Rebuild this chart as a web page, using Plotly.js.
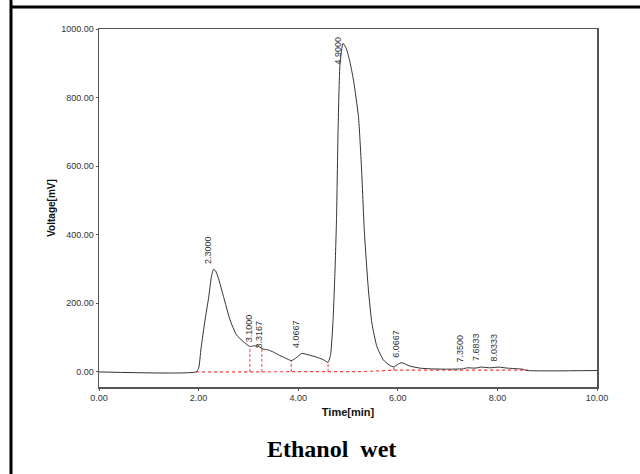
<!DOCTYPE html>
<html>
<head>
<meta charset="utf-8">
<script src="https://cdn.plot.ly/plotly-3.0.1.min.js"></script>
<style>html,body{margin:0;padding:0;background:#fff;}#chart{width:640px;height:474px;}</style>
</head>
<body>
<div id="chart"></div>
<script>
// Chromatogram trace (time in min, voltage in mV)
const timeMin = [0, 1.95, 2.00, 2.05, 2.13, 2.20, 2.26, 2.30, 2.34, 2.40, 2.50, 2.63, 2.76, 2.90, 3.03, 3.10, 3.20, 3.27, 3.32, 3.40, 3.50, 3.63, 3.75, 3.86, 3.95, 4.07, 4.20, 4.35, 4.50, 4.60, 4.65, 4.70, 4.74, 4.77, 4.80, 4.84, 4.90, 4.96, 5.03, 5.11, 5.21, 5.27, 5.33, 5.41, 5.48, 5.58, 5.71, 5.85, 5.92, 6.00, 6.08, 6.24, 6.45, 6.65, 7.00, 7.30, 7.40, 7.55, 7.68, 7.85, 8.03, 8.20, 8.50, 8.60, 10.0];
const voltage = [0, 0, 10, 70, 152, 215, 280, 299, 295, 272, 220, 152, 108, 88, 74, 76, 75, 68, 66, 64, 58, 48, 40, 33, 40, 54, 50, 44, 36, 28, 50, 150, 300, 450, 700, 900, 958, 945, 910, 851, 744, 598, 405, 239, 142, 74, 35, 18, 15, 22, 27, 17, 11, 9, 8, 9, 12, 11, 14, 12, 14, 11, 8, 4, 4];

// Integration baseline (red dotted)
const baseTime = [1.95, 4.60, 5.30, 5.92, 8.62];
const baseVolt = [0, 0, 1, 5, 5];

// Peak drop lines (red dashed)
const dropTime = [3.03, 3.27, 3.86, 4.60, 5.92];
const dropTop = [74, 68, 33, 28, 15];
const dropBottom = [0, 0, 0, 0, 5];

// Peak labels (retention times) and their apex heights
const peakLabels = ["2.3000", "3.1000", "3.3167", "4.0667", "4.9000", "6.0667", "7.3500", "7.6833", "8.0333"];
const peakHeights = [299, 76, 66, 54, 958, 27, 10, 13, 13];

const xTicks = [0, 2, 4, 6, 8, 10];
const yTicks = [0, 200, 400, 600, 800, 1000];

const labelYShift = [3, 2, -1, 3, -23, 3, 4, 4, 4];

const FONT = 'Arial, "Liberation Sans", sans-serif';
const RED = '#ff3b3b';

const traces = [];
traces.push({
  x: baseTime, y: baseVolt, mode: 'lines', type: 'scatter',
  line: {color: RED, width: 1.2, dash: 'dot'}, hoverinfo: 'skip'
});
dropTime.forEach((t, i) => {
  traces.push({
    x: [t, t], y: [dropBottom[i], dropTop[i]], mode: 'lines', type: 'scatter',
    line: {color: RED, width: 1, dash: '3px,2px'}, hoverinfo: 'skip'
  });
});
traces.push({
  x: timeMin, y: voltage, mode: 'lines', type: 'scatter',
  line: {color: '#333333', width: 1, shape: 'spline', smoothing: 0.5}
});

const annotations = peakLabels.map((lab, i) => ({
  x: parseFloat(lab), y: peakHeights[i], xref: 'x', yref: 'y',
  text: lab, showarrow: false, textangle: -90,
  xanchor: 'center', yanchor: 'bottom', xshift: -5, yshift: labelYShift[i],
  font: {family: FONT, size: 9, color: '#333'}
}));
annotations.push({
  x: 0.466, y: -0.172, xref: 'paper', yref: 'paper',
  text: 'Ethanol\u00a0 wet', showarrow: false, xanchor: 'center', yanchor: 'middle',
  font: {family: '"Liberation Serif", "Times New Roman", serif', size: 24, color: '#000', weight: 'bold'}
});

const layout = {
  width: 640, height: 474,
  margin: {l: 99, r: 43, t: 29, b: 87},
  paper_bgcolor: '#fff', plot_bgcolor: '#fff',
  showlegend: false,
  font: {family: FONT, size: 9, color: '#333'},
  xaxis: {
    range: [0, 10], tickvals: xTicks, tickformat: '.2f',
    showgrid: false, zeroline: false,
    showline: true, mirror: true, linecolor: '#555', linewidth: 1.5,
    ticks: 'outside', ticklen: 2, tickcolor: '#555',
    tickfont: {family: FONT, size: 9, color: '#333'},
    title: {text: 'Time[min]', standoff: 6, font: {family: FONT, size: 11, color: '#111', weight: 'bold'}}
  },
  yaxis: {
    range: [-44, 1000], tickvals: yTicks, tickformat: '.2f',
    showgrid: false, zeroline: false,
    showline: true, mirror: true, linecolor: '#555', linewidth: 1.5,
    ticks: 'outside', ticklen: 2, tickcolor: '#555',
    tickfont: {family: FONT, size: 9, color: '#333'},
    title: {text: 'Voltage[mV]', standoff: 3, font: {family: FONT, size: 10, color: '#111', weight: 'bold'}}
  },
  annotations: annotations,
  shapes: [
    {type: 'line', xref: 'paper', yref: 'paper', x0: -0.1767, x1: -0.1767, y0: 1.09, y1: -0.25, line: {color: '#000', width: 3}},
    {type: 'line', xref: 'paper', yref: 'paper', x0: -0.1767, x1: 1.09, y0: 1.0615, y1: 1.0615, line: {color: '#000', width: 3}}
  ]
};

Plotly.newPlot('chart', traces, layout, {staticPlot: true, displayModeBar: false});
</script>
</body>
</html>
